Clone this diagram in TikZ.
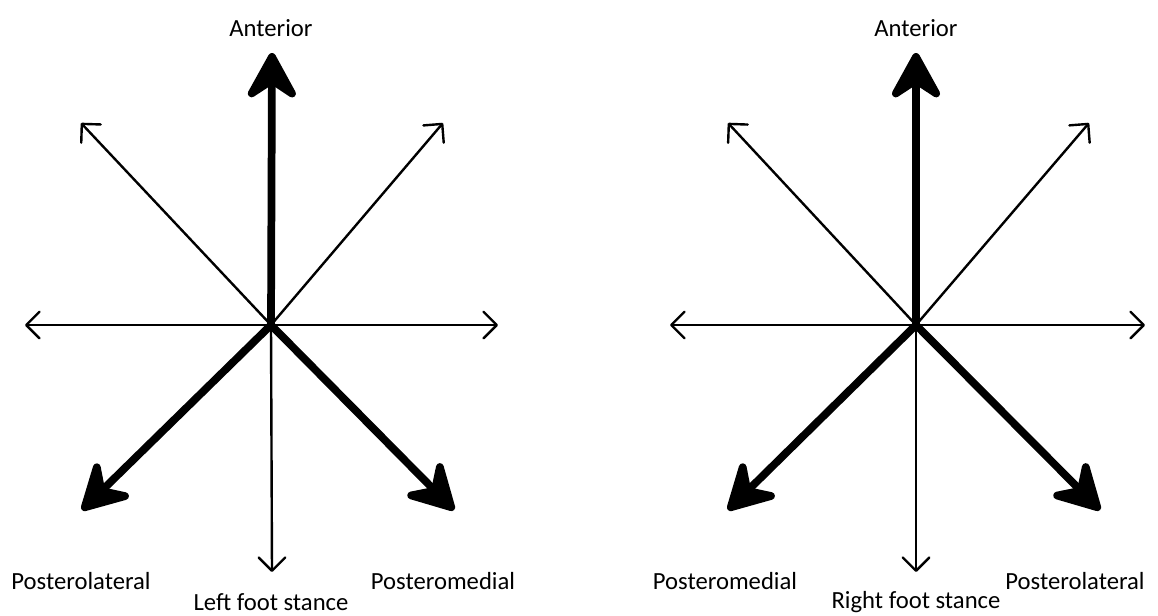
\documentclass[tikz,border=0pt]{standalone}
\usepackage{fontspec}
\setmainfont{Carlito}
\usetikzlibrary{arrows.meta}
\begin{document}
\begin{tikzpicture}[x=0.75pt,y=-0.75pt,
  thinarrow/.style={line width=1.8pt,-{Straight Barb[length=10pt,width=20pt,round]}},
  thickarrow/.style={line width=5.8pt,-{Stealth[length=42pt,width=46pt,inset=15pt,round]}},
  lbl/.style={font=\fontsize{18.5}{20}\selectfont,inner sep=0pt}]
\useasboundingbox (0,0) rectangle (1158,615);
% left star
\coordinate (c1) at (271,325);
\coordinate (l-up) at (272,53);
\coordinate (l-dn) at (272,572);
\coordinate (l-lt) at (25,325);
\coordinate (l-rt) at (498,325);
\coordinate (l-ul) at (81,123);
\coordinate (l-ur) at (443,123);
\coordinate (l-ll) at (82,510);
\coordinate (l-lr) at (454,510);
\draw[thinarrow] (c1) -- (l-dn);
\draw[thinarrow] (c1) -- (l-lt);
\draw[thinarrow] (c1) -- (l-rt);
\draw[thinarrow] (c1) -- (l-ul);
\draw[thinarrow] (c1) -- (l-ur);
\draw[thickarrow] (c1) -- (l-up);
\draw[thickarrow] (c1) -- (l-ll);
\draw[thickarrow] (c1) -- (l-lr);
% right star
\coordinate (c2) at (916,325);
\coordinate (r-up) at (916,53);
\coordinate (r-dn) at (916,572);
\coordinate (r-lt) at (670,325);
\coordinate (r-rt) at (1145,325);
\coordinate (r-ul) at (728,123);
\coordinate (r-ur) at (1089,123);
\coordinate (r-ll) at (728,510);
\coordinate (r-lr) at (1100,510);
\draw[thinarrow] (c2) -- (r-dn);
\draw[thinarrow] (c2) -- (r-lt);
\draw[thinarrow] (c2) -- (r-rt);
\draw[thinarrow] (c2) -- (r-ul);
\draw[thinarrow] (c2) -- (r-ur);
\draw[thickarrow] (c2) -- (r-up);
\draw[thickarrow] (c2) -- (r-ll);
\draw[thickarrow] (c2) -- (r-lr);
% labels
\node[lbl] (t1) at (271,28) {Anterior};
\node[lbl] (t2) at (81,581) {Posterolateral};
\node[lbl] (t3) at (443,581) {Posteromedial};
\node[lbl] (t4) at (271,602) {Left foot stance};
\node[lbl] (t5) at (916,28) {Anterior};
\node[lbl] (t6) at (725,581) {Posteromedial};
\node[lbl] (t7) at (1075,581) {Posterolateral};
\node[lbl] (t8) at (916,602) {Right foot stance};
\end{tikzpicture}
\end{document}
